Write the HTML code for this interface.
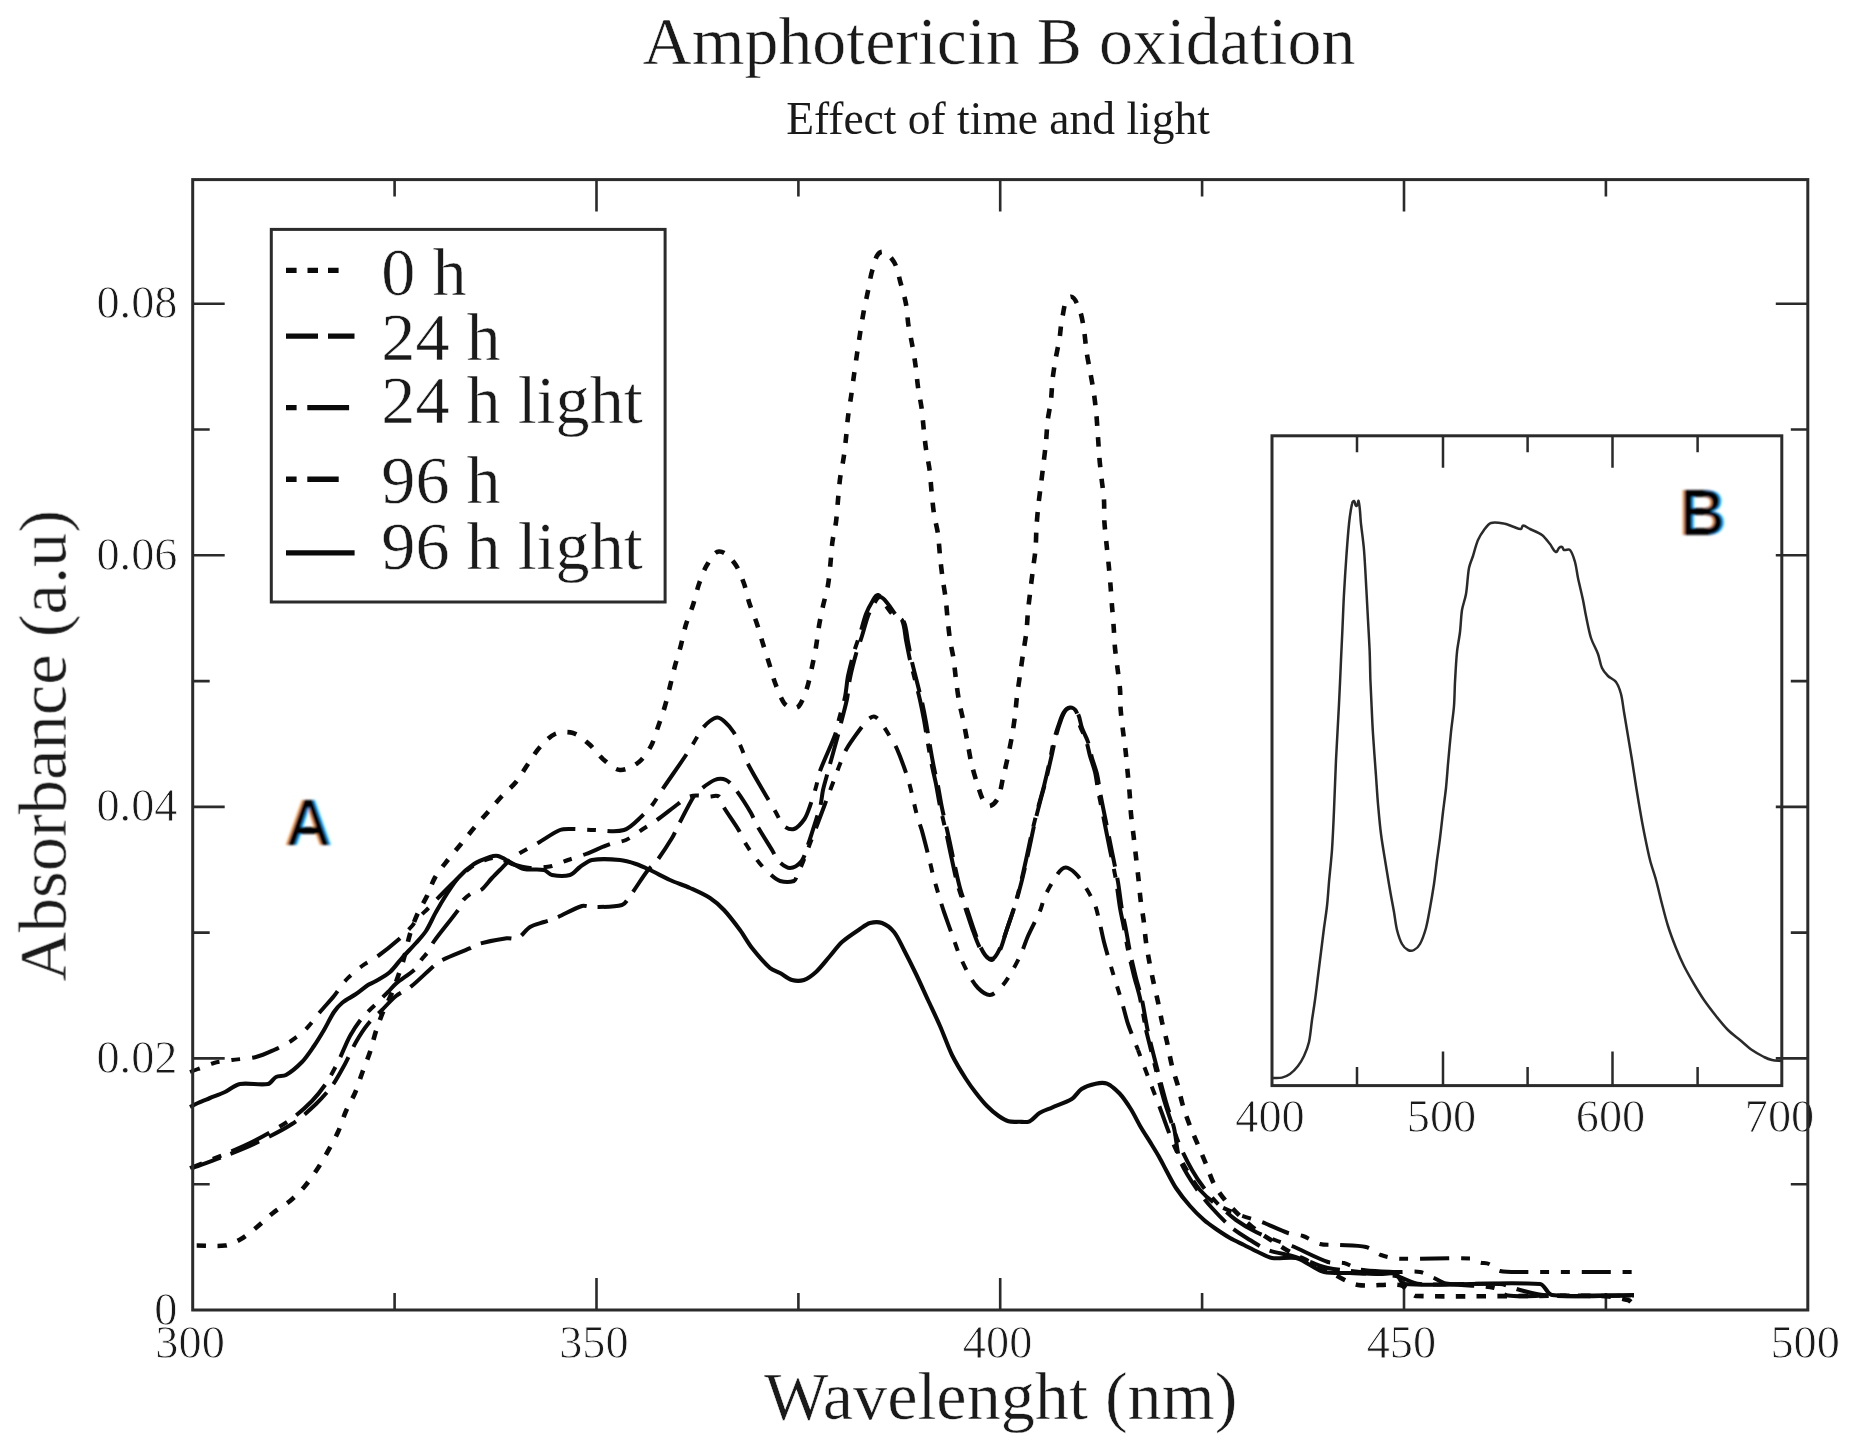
<!DOCTYPE html>
<html lang="en"><head><meta charset="utf-8"><title>Amphotericin B oxidation</title>
<style>
html,body{margin:0;padding:0;background:#fff;}
body{width:1850px;height:1449px;overflow:hidden;position:relative;font-family:"Liberation Serif",serif;color:#111;}
svg{position:absolute;left:0;top:0;display:block}
text{font-family:"Liberation Serif",serif;fill:#1a1a1a}
.tk{font-size:46.3px;stroke:#fff;stroke-width:0.8px}
.big{font-size:68.2px;stroke:#fff;stroke-width:0.5px}
.ab{font-family:"Liberation Sans",sans-serif;font-weight:700;font-size:64.5px;fill:#000}
.curve{fill:none;stroke:#0a0a0a;stroke-width:4;stroke-linejoin:round}
.fr{fill:none;stroke:#2b2b2b;stroke-width:3}
</style></head><body>
<svg width="1850" height="1449" viewBox="0 0 1850 1449">
<defs>
<filter id="fringe" x="-10%" y="-10%" width="120%" height="120%">
<feFlood flood-color="#ff9a2b" result="o"/><feOffset in="SourceAlpha" dx="-0.8" dy="0" result="l"/><feComposite in="o" in2="l" operator="in" result="ol"/>
<feFlood flood-color="#1ea5ff" result="b"/><feOffset in="SourceAlpha" dx="0.8" dy="0" result="r"/><feComposite in="b" in2="r" operator="in" result="br"/>
<feMorphology in="SourceAlpha" operator="erode" radius="0.7 0.2" result="k"/>
<feMerge result="m"><feMergeNode in="ol"/><feMergeNode in="br"/><feMergeNode in="k"/></feMerge><feGaussianBlur in="m" stdDeviation="0.85"/>
</filter>
</defs>
<rect width="1850" height="1449" fill="#fff"/>
<g id="all" style="filter:blur(0.55px)">

<text class="big" x="999" y="64" text-anchor="middle" style="font-size:67.9px">Amphotericin B oxidation</text>
<text x="998" y="134" text-anchor="middle" style="font-size:45.5px">Effect of time and light</text>
<text class="big" x="1000.7" y="1419" text-anchor="middle">Wavelenght (nm)</text>
<text class="big" transform="translate(65.7,745.7) rotate(-90)" text-anchor="middle" style="font-size:68.5px">Absorbance (a.u)</text>
<path d="M596.5,1310.0 v-32 M596.5,179.6 v32 M1000.2,1310.0 v-32 M1000.2,179.6 v32 M1404.0,1310.0 v-32 M1404.0,179.6 v32 M394.6,1310.0 v-17 M394.6,179.6 v17 M798.4,1310.0 v-17 M798.4,179.6 v17 M1202.1,1310.0 v-17 M1202.1,179.6 v17 M1605.9,1310.0 v-17 M1605.9,179.6 v17 M192.7,1058.4 h32 M1807.8,1058.4 h-32 M192.7,806.9 h32 M1807.8,806.9 h-32 M192.7,555.3 h32 M1807.8,555.3 h-32 M192.7,303.7 h32 M1807.8,303.7 h-32 M192.7,1184.2 h17 M1807.8,1184.2 h-17 M192.7,932.6 h17 M1807.8,932.6 h-17 M192.7,681.1 h17 M1807.8,681.1 h-17 M192.7,429.5 h17 M1807.8,429.5 h-17" fill="none" stroke="#2b2b2b" stroke-width="2.6"/>
<text class="tk" x="190.1" y="1357.6" text-anchor="middle">300</text>
<text class="tk" x="593.9" y="1357.6" text-anchor="middle">350</text>
<text class="tk" x="997.6" y="1357.6" text-anchor="middle">400</text>
<text class="tk" x="1401.4" y="1357.6" text-anchor="middle">450</text>
<text class="tk" x="1805.2" y="1357.6" text-anchor="middle">500</text>
<text class="tk" x="177.5" y="1325.4" text-anchor="end">0</text>
<text class="tk" x="177.5" y="1072.6" text-anchor="end">0.02</text>
<text class="tk" x="177.5" y="821.1" text-anchor="end">0.04</text>
<text class="tk" x="177.5" y="569.5" text-anchor="end">0.06</text>
<text class="tk" x="177.5" y="317.9" text-anchor="end">0.08</text>
<path id="c96l" class="curve" d="M190.0,1107.0 C192.4,1105.8 195.6,1104.1 198.0,1103.0 C201.6,1101.4 206.4,1099.5 210.0,1098.0 C214.5,1096.2 220.6,1094.0 225.0,1092.0 C229.6,1089.8 235.0,1084.9 240.0,1084.0 C248.3,1082.5 259.8,1085.6 268.0,1084.0 C271.1,1083.4 273.1,1078.4 276.0,1077.0 C278.7,1075.6 283.3,1076.5 286.0,1075.0 C291.4,1071.9 297.7,1066.4 302.0,1062.0 C306.2,1057.7 310.6,1050.9 314.0,1046.0 C317.2,1041.3 321.1,1034.9 324.0,1030.0 C327.1,1024.7 330.6,1017.1 334.0,1012.0 C336.0,1009.0 339.2,1005.3 342.0,1003.0 C345.9,999.8 351.9,996.8 356.0,994.0 C359.7,991.4 364.2,987.5 368.0,985.0 C370.2,983.5 373.7,982.4 376.0,981.0 C380.3,978.5 386.3,975.3 390.0,972.0 C394.1,968.3 398.3,962.1 402.0,958.0 C406.1,953.4 411.9,947.6 416.0,943.0 C419.1,939.5 423.5,934.9 426.0,931.0 C429.5,925.6 432.8,917.6 436.0,912.0 C439.4,905.9 444.2,897.9 448.0,892.0 C450.8,887.7 454.5,881.8 458.0,878.0 C462.3,873.3 468.7,867.5 474.0,864.0 C478.4,861.1 485.0,858.7 490.0,857.0 C492.3,856.2 495.7,855.4 498.0,856.0 C501.9,857.0 506.4,860.2 510.0,862.0 C514.2,864.1 519.4,867.9 524.0,869.0 C529.8,870.4 538.1,868.7 544.0,870.0 C546.8,870.6 549.2,874.5 552.0,875.0 C557.3,876.0 564.8,876.5 570.0,875.0 C573.7,873.9 576.8,869.2 580.0,867.0 C583.4,864.7 587.9,860.7 592.0,860.0 C600.3,858.6 611.6,859.2 620.0,860.0 C624.9,860.4 631.3,862.4 636.0,864.0 C640.3,865.4 645.9,868.1 650.0,870.0 C656.1,872.9 663.9,877.2 670.0,880.0 C675.9,882.7 684.1,885.3 690.0,888.0 C696.1,890.8 704.4,894.4 710.0,898.0 C714.6,901.0 720.2,906.0 724.0,910.0 C729.3,915.6 735.4,923.8 740.0,930.0 C743.8,935.2 748.0,942.9 752.0,948.0 C757.0,954.3 764.0,962.6 770.0,968.0 C772.5,970.2 777.1,971.4 780.0,973.0 C783.7,975.0 788.0,978.8 792.0,980.0 C795.5,981.0 800.6,981.1 804.0,980.0 C808.1,978.6 812.8,974.9 816.0,972.0 C820.7,967.7 825.8,960.8 830.0,956.0 C833.6,951.8 837.9,945.7 842.0,942.0 C847.0,937.5 854.5,932.7 860.0,929.0 C862.9,927.0 866.6,923.9 870.0,923.0 C873.5,922.1 878.6,921.7 882.0,923.0 C886.2,924.6 891.2,928.5 894.0,932.0 C897.9,936.8 901.1,944.5 904.0,950.0 C907.7,957.1 912.5,966.7 916.0,974.0 C919.7,981.7 924.4,992.2 928.0,1000.0 C931.6,1007.8 936.6,1018.1 940.0,1026.0 C943.8,1034.6 947.9,1046.5 952.0,1055.0 C955.7,1062.5 961.5,1072.0 966.0,1079.0 C968.8,1083.4 972.8,1088.9 976.0,1093.0 C979.1,1097.0 983.4,1102.4 987.0,1106.0 C990.2,1109.3 994.9,1113.3 998.7,1116.0 C1001.4,1117.9 1005.3,1120.4 1008.5,1121.3 C1011.5,1122.2 1015.8,1121.8 1019.0,1121.8 C1022.2,1121.8 1026.7,1122.6 1029.6,1121.3 C1033.2,1119.8 1036.2,1115.0 1039.5,1113.0 C1043.0,1110.9 1048.3,1109.2 1052.0,1107.6 C1057.9,1105.0 1066.3,1102.4 1071.8,1099.0 C1075.4,1096.8 1078.1,1091.3 1081.6,1089.0 C1085.4,1086.6 1091.3,1084.6 1095.7,1083.7 C1099.0,1083.0 1103.9,1082.4 1107.0,1083.7 C1111.4,1085.5 1116.3,1090.0 1119.6,1093.5 C1123.5,1097.7 1127.7,1104.1 1130.8,1109.0 C1134.1,1114.2 1137.6,1121.7 1140.7,1127.0 C1143.5,1131.8 1147.6,1138.0 1150.5,1142.7 C1153.1,1146.9 1156.6,1152.5 1159.0,1156.8 C1161.2,1160.7 1163.9,1166.1 1166.0,1170.0 C1169.0,1175.4 1172.6,1182.9 1176.0,1188.0 C1179.8,1193.7 1185.5,1200.9 1190.0,1206.0 C1193.9,1210.5 1199.6,1216.1 1204.0,1220.0 C1207.4,1223.0 1212.3,1226.4 1216.0,1229.0 C1220.1,1231.8 1225.7,1235.5 1230.0,1238.0 C1234.1,1240.3 1239.8,1242.9 1244.0,1245.0 C1248.2,1247.1 1253.7,1250.0 1258.0,1252.0 C1262.1,1253.9 1267.5,1257.3 1272.0,1258.0 C1279.1,1259.1 1288.9,1256.7 1296.0,1258.0 C1300.6,1258.9 1305.8,1262.9 1310.0,1265.0 C1314.2,1267.1 1319.4,1271.1 1324.0,1272.0 C1331.7,1273.5 1342.2,1272.7 1350.0,1273.0 C1359.0,1273.3 1371.0,1273.8 1380.0,1274.0 C1384.8,1274.1 1391.6,1272.2 1396.0,1274.0 C1399.5,1275.5 1400.2,1283.7 1404.0,1284.0 C1444.7,1286.8 1499.3,1281.0 1540.0,1284.0 C1544.9,1284.4 1547.1,1294.4 1552.0,1295.0 C1576.4,1297.9 1609.4,1295.0 1634.0,1295.0" style="stroke-width:4.1"/>
<path id="c24" class="curve" d="M190.0,1169.0 C200.5,1165.1 214.6,1160.1 225.0,1156.0 C233.8,1152.6 245.5,1148.1 254.0,1144.0 C265.6,1138.4 281.2,1131.0 292.0,1124.0 C299.9,1118.9 309.2,1110.5 316.0,1104.0 C321.2,1099.0 327.8,1091.8 332.0,1086.0 C336.5,1079.8 341.3,1070.7 345.0,1064.0 C348.5,1057.5 352.3,1048.4 356.0,1042.0 C359.2,1036.4 363.9,1029.0 368.0,1024.0 C371.7,1019.4 377.8,1014.2 382.0,1010.0 C386.2,1005.8 391.4,999.7 396.0,996.0 C400.0,992.8 406.6,990.1 410.6,986.9 C417.9,981.1 426.7,972.0 433.8,965.9 C436.0,964.1 438.9,961.6 441.5,960.4 C449.9,956.3 461.6,952.0 470.2,948.2 C472.9,947.0 476.2,944.6 479.0,943.8 C487.2,941.6 498.3,939.5 506.7,938.3 C510.0,937.8 514.7,939.7 517.7,938.3 C522.2,936.1 525.7,929.6 530.0,927.0 C533.8,924.7 539.8,923.5 544.0,922.0 C547.6,920.8 552.5,919.5 556.0,918.0 C563.9,914.7 573.8,908.5 582.0,906.0 C584.9,905.1 589.0,907.1 592.0,907.0 C601.0,906.8 613.3,907.5 622.0,905.0 C625.5,904.0 627.8,898.9 630.0,896.0 C635.7,888.4 642.2,877.5 648.0,870.0 C650.1,867.3 654.0,864.7 656.0,862.0 C661.2,855.1 667.5,845.4 672.0,838.0 C674.1,834.6 676.1,829.6 678.0,826.0 C682.7,817.0 688.7,804.7 694.0,796.0 C695.3,793.8 698.0,791.6 700.0,790.0 C704.2,786.7 709.6,781.9 714.6,780.0 C717.8,778.8 722.9,778.6 726.0,780.0 C729.8,781.8 733.4,786.6 736.0,790.0 C741.0,796.6 746.8,805.9 751.0,813.0 C753.0,816.4 754.7,821.5 756.7,825.0 C761.2,832.9 767.9,843.2 772.6,851.0 C774.4,854.0 775.9,858.6 778.4,861.0 C781.3,863.8 785.9,868.0 790.0,868.0 C794.1,868.0 799.0,864.2 801.6,861.0 C804.5,857.4 805.8,850.9 807.4,846.5 C810.2,838.6 813.4,828.0 816.0,820.0 C817.3,815.8 819.4,810.3 820.4,806.0 C821.5,801.3 822.0,794.8 823.0,790.0 C824.0,785.4 825.8,779.5 827.0,775.0 C830.1,763.6 834.4,748.4 837.5,737.0 C838.8,732.2 840.3,725.8 841.5,721.0 C843.1,714.4 845.7,705.7 847.0,699.0 C848.2,692.8 848.8,684.2 850.0,678.0 C851.5,670.7 854.0,661.1 856.0,654.0 C857.6,648.5 860.3,641.4 862.0,636.0 C863.9,630.0 865.8,621.9 868.0,616.0 C869.4,612.2 871.9,607.4 874.0,604.0 C875.5,601.7 877.2,597.0 880.0,597.0 C883.2,597.0 885.9,601.6 888.0,604.0 C890.7,607.0 893.3,612.0 896.0,615.0 C898.1,617.4 902.7,619.1 904.0,622.0 C906.5,627.6 906.8,636.0 908.0,642.0 C909.2,648.0 910.7,656.0 912.0,662.0 C913.4,668.0 915.5,676.0 917.0,682.0 C918.5,688.0 920.6,696.0 922.0,702.0 C923.3,708.0 924.9,716.0 926.0,722.0 C927.3,729.2 928.7,738.8 930.0,746.0 C931.1,752.6 932.7,761.4 934.0,768.0 C935.1,773.4 936.9,780.6 938.0,786.0 C939.3,792.6 940.6,801.4 942.0,808.0 C943.6,815.8 946.3,826.2 948.0,834.0 C949.9,842.4 952.1,853.6 954.0,862.0 C955.7,869.8 957.8,880.3 960.0,888.0 C962.0,895.3 965.6,904.8 968.0,912.0 C969.8,917.4 972.1,924.6 974.0,930.0 C976.0,935.4 978.4,942.8 981.0,948.0 C982.6,951.3 985.1,955.8 988.0,958.0 C989.4,959.1 992.7,959.2 994.0,958.0 C997.1,955.2 999.3,949.8 1001.0,946.0 C1003.5,940.2 1005.9,932.0 1008.0,926.0 C1010.4,918.8 1013.8,909.3 1016.0,902.0 C1018.0,895.5 1020.3,886.6 1022.0,880.0 C1023.9,872.2 1026.3,861.8 1028.0,854.0 C1029.9,845.6 1032.1,834.4 1034.0,826.0 C1035.7,818.8 1038.1,809.2 1040.0,802.0 C1041.7,795.4 1044.3,786.6 1046.0,780.0 C1047.9,772.2 1050.2,761.8 1052.0,754.0 C1053.2,748.6 1054.6,741.3 1056.0,736.0 C1057.3,731.1 1059.2,724.7 1061.0,720.0 C1062.2,716.9 1063.7,712.5 1066.0,710.0 C1067.3,708.6 1070.2,707.4 1072.0,708.0 C1074.4,708.8 1076.9,711.7 1078.0,714.0 C1080.0,717.9 1080.5,723.9 1082.0,728.0 C1083.5,732.3 1086.6,737.7 1088.0,742.0 C1089.6,746.7 1090.7,753.2 1092.0,758.0 C1093.4,762.8 1095.8,769.1 1097.0,774.0 C1098.3,779.3 1099.0,786.6 1100.0,792.0 C1101.7,801.0 1104.2,813.0 1106.0,822.0 C1107.8,831.0 1110.2,843.0 1112.0,852.0 C1113.8,861.0 1116.4,873.0 1118.0,882.0 C1119.4,890.4 1120.6,901.6 1122.0,910.0 C1123.0,916.0 1124.9,924.0 1126.0,930.0 C1127.3,936.6 1128.6,945.4 1130.0,952.0 C1131.6,959.8 1134.1,970.2 1136.0,978.0 C1137.7,984.6 1140.5,993.3 1142.0,1000.0 C1144.1,1009.5 1145.9,1022.5 1148.0,1032.0 C1150.7,1044.1 1154.9,1060.0 1158.0,1072.0 C1160.3,1081.0 1163.4,1093.0 1166.0,1102.0 C1168.2,1109.8 1172.1,1120.1 1174.0,1128.0 C1176.3,1137.5 1176.6,1150.8 1180.0,1160.0 C1183.3,1169.1 1190.6,1180.0 1196.0,1188.0 C1200.3,1194.4 1206.9,1202.3 1212.0,1208.0 C1217.7,1214.3 1225.5,1222.5 1232.0,1228.0 C1237.0,1232.2 1244.5,1236.6 1250.0,1240.0 C1255.3,1243.2 1262.2,1247.8 1268.0,1250.0 C1274.9,1252.6 1284.9,1254.0 1292.0,1256.0 C1297.5,1257.6 1304.6,1260.2 1310.0,1262.0 C1315.4,1263.8 1322.4,1266.9 1328.0,1268.0 C1337.5,1269.9 1350.4,1270.9 1360.0,1272.0 C1370.8,1273.3 1385.3,1273.9 1396.0,1276.0 C1403.4,1277.5 1412.4,1283.4 1420.0,1284.0 C1443.9,1285.8 1476.0,1282.6 1500.0,1284.0 C1506.3,1284.4 1513.9,1288.5 1520.0,1290.0 C1528.3,1292.0 1539.4,1295.2 1548.0,1295.6 C1573.8,1296.9 1608.2,1295.6 1634.0,1295.6" stroke-dasharray="31 11" stroke-dashoffset="40.5"/>
<path id="c24l" class="curve" d="M190.0,1168.0 C200.5,1163.8 214.6,1158.4 225.0,1154.0 C233.8,1150.3 245.6,1145.4 254.0,1141.0 C265.1,1135.2 279.7,1127.1 290.0,1120.0 C297.2,1115.0 305.9,1107.2 312.0,1101.0 C317.1,1095.8 323.0,1088.1 327.0,1082.0 C331.1,1075.7 335.6,1066.7 339.0,1060.0 C342.5,1052.9 346.2,1042.9 350.0,1036.0 C353.1,1030.3 357.9,1023.0 362.0,1018.0 C365.7,1013.4 371.8,1008.2 376.0,1004.0 C379.6,1000.4 384.4,995.6 388.0,992.0 C390.4,989.5 393.3,985.8 396.0,983.6 C401.5,979.0 409.8,974.1 415.0,969.2 C417.6,966.7 419.5,962.2 421.7,959.3 C423.5,956.8 426.6,954.0 428.3,951.5 C430.2,948.7 431.8,944.4 433.8,941.6 C441.1,931.4 452.0,918.7 459.2,908.5 C460.9,906.1 461.6,901.8 463.6,899.6 C466.1,896.8 470.3,893.8 473.6,892.0 C475.7,890.8 479.4,891.2 481.3,889.7 C485.1,886.8 488.7,881.4 492.0,878.0 C495.0,874.8 499.2,870.7 502.3,867.6 C504.6,865.3 507.5,862.1 510.0,860.0 C512.8,857.7 516.9,854.9 520.0,853.0 C525.3,849.8 532.6,846.1 538.0,843.0 C544.6,839.2 552.9,832.9 560.0,830.0 C563.3,828.6 568.4,829.0 572.0,829.0 C578.6,829.0 587.4,829.9 594.0,830.0 C603.0,830.2 615.4,832.5 624.0,830.0 C630.6,828.1 636.9,820.6 642.0,816.0 C645.6,812.7 650.0,807.9 653.0,804.0 C656.0,800.0 659.2,794.1 662.0,790.0 C668.5,780.3 677.5,767.7 684.0,758.0 C686.8,753.9 690.4,748.2 693.0,744.0 C695.8,739.5 698.9,733.2 702.0,729.0 C704.0,726.3 707.3,723.0 710.0,721.0 C712.0,719.5 715.0,717.3 717.5,717.5 C720.1,717.7 723.1,720.2 725.0,722.0 C727.9,724.6 731.4,728.7 733.5,732.0 C736.4,736.5 739.2,743.1 741.4,748.0 C743.5,752.7 745.6,759.4 748.0,764.0 C753.2,774.1 761.1,787.1 766.8,797.0 C769.4,801.4 772.9,807.3 775.5,811.7 C778.0,816.0 780.4,822.6 784.0,826.0 C786.3,828.1 791.0,830.0 794.0,829.0 C798.1,827.6 802.0,822.6 804.5,819.0 C806.9,815.5 808.6,810.0 810.0,806.0 C812.0,800.4 814.4,792.7 816.0,787.0 C817.4,782.2 818.3,775.6 820.0,771.0 C824.0,760.0 831.0,746.0 835.0,735.0 C836.7,730.4 837.7,723.8 839.0,719.0 C840.7,712.4 843.6,703.7 845.0,697.0 C846.3,690.8 846.8,682.2 848.0,676.0 C849.5,668.7 852.0,659.1 854.0,652.0 C855.6,646.5 858.3,639.4 860.0,634.0 C861.9,628.0 863.8,619.9 866.0,614.0 C867.4,610.2 869.9,605.4 872.0,602.0 C873.5,599.7 875.3,594.2 878.0,595.0 C881.9,596.1 883.5,602.8 886.0,606.0 C888.3,609.1 891.1,613.5 894.0,616.0 C896.0,617.8 900.8,617.6 902.0,620.0 C904.7,625.5 904.8,634.0 906.0,640.0 C907.2,646.0 908.7,654.0 910.0,660.0 C911.4,666.0 913.5,674.0 915.0,680.0 C916.5,686.0 918.6,694.0 920.0,700.0 C921.3,706.0 922.9,714.0 924.0,720.0 C925.3,727.2 926.7,736.8 928.0,744.0 C929.1,750.6 930.7,759.4 932.0,766.0 C933.1,771.4 934.9,778.6 936.0,784.0 C937.3,790.6 938.6,799.4 940.0,806.0 C941.6,813.8 944.3,824.2 946.0,832.0 C947.9,840.4 950.1,851.6 952.0,860.0 C953.7,867.8 955.8,878.3 958.0,886.0 C960.0,893.3 963.6,902.8 966.0,910.0 C967.8,915.4 970.1,922.6 972.0,928.0 C974.0,933.4 976.4,940.8 979.0,946.0 C980.6,949.3 983.5,953.3 986.0,956.0 C987.5,957.6 990.0,960.9 992.0,960.0 C995.5,958.5 998.3,953.4 1000.0,950.0 C1002.5,944.9 1004.2,937.4 1006.0,932.0 C1008.4,924.8 1011.8,915.3 1014.0,908.0 C1016.0,901.5 1018.3,892.6 1020.0,886.0 C1021.9,878.2 1024.3,867.8 1026.0,860.0 C1027.9,851.6 1030.1,840.4 1032.0,832.0 C1033.7,824.8 1036.1,815.2 1038.0,808.0 C1039.7,801.4 1042.3,792.6 1044.0,786.0 C1045.9,778.2 1048.3,767.8 1050.0,760.0 C1051.3,754.0 1052.5,745.9 1054.0,740.0 C1055.2,735.1 1057.3,728.7 1059.0,724.0 C1060.3,720.3 1061.8,715.2 1064.0,712.0 C1065.2,710.1 1067.8,707.8 1070.0,707.6 C1072.1,707.4 1075.0,709.2 1076.0,711.0 C1078.2,715.1 1078.5,721.6 1080.0,726.0 C1081.5,730.3 1084.6,735.7 1086.0,740.0 C1087.6,744.7 1088.7,751.2 1090.0,756.0 C1091.4,760.8 1093.8,767.1 1095.0,772.0 C1096.3,777.3 1097.0,784.6 1098.0,790.0 C1099.7,799.0 1102.2,811.0 1104.0,820.0 C1105.8,829.0 1108.2,841.0 1110.0,850.0 C1111.8,859.0 1114.4,871.0 1116.0,880.0 C1117.4,888.4 1118.6,899.6 1120.0,908.0 C1121.0,914.0 1122.9,922.0 1124.0,928.0 C1125.3,934.6 1126.6,943.4 1128.0,950.0 C1129.6,957.8 1132.1,968.2 1134.0,976.0 C1135.7,982.6 1138.5,991.3 1140.0,998.0 C1142.1,1007.5 1144.2,1020.4 1146.0,1030.0" stroke-dasharray="42 11.5 9 11.5" stroke-dashoffset="29"/>
<path id="c24lb" class="curve" d="M1146.0,1030.0 C1149.0,1042.0 1152.9,1058.0 1156.0,1070.0 C1158.3,1079.0 1161.4,1091.1 1164.0,1100.0 C1166.2,1107.3 1169.5,1116.8 1172.0,1124.0 C1174.3,1130.6 1177.2,1139.6 1180.0,1146.0 C1183.2,1153.4 1188.0,1163.0 1192.0,1170.0 C1195.2,1175.6 1200.0,1182.9 1204.0,1188.0 C1208.4,1193.7 1214.9,1200.9 1220.0,1206.0 C1224.5,1210.5 1230.8,1216.3 1236.0,1220.0 C1241.7,1224.1 1249.8,1228.8 1256.0,1232.0 C1261.5,1234.8 1269.2,1237.8 1275.0,1240.0 C1280.0,1242.0 1287.0,1243.9 1292.0,1246.0 C1302.9,1250.5 1316.8,1258.3 1328.0,1262.0 C1332.6,1263.5 1339.3,1261.9 1344.0,1263.0 C1349.0,1264.2 1354.9,1268.6 1360.0,1269.5 C1370.7,1271.3 1385.2,1271.5 1396.0,1272.0 C1403.2,1272.3 1412.9,1270.9 1420.0,1272.0 C1424.5,1272.7 1429.8,1276.2 1434.0,1278.0 C1437.6,1279.6 1442.1,1282.8 1446.0,1283.5 C1460.3,1285.9 1479.8,1285.2 1494.0,1288.0 C1498.7,1288.9 1503.3,1294.9 1508.0,1295.6 C1519.9,1297.3 1536.0,1295.6 1548.0,1295.6 C1573.8,1295.6 1608.2,1295.6 1634.0,1295.6" stroke-dasharray="42 11.5 9 11.5" stroke-dashoffset="19.5"/>
<path id="c96" class="curve" d="M190.0,1072.0 C192.4,1071.1 195.6,1069.9 198.0,1069.0 C202.8,1067.2 209.0,1064.3 214.0,1063.0 C219.3,1061.6 226.6,1060.8 232.0,1060.0 C239.2,1059.0 248.9,1058.7 256.0,1057.0 C261.6,1055.7 268.7,1052.4 274.0,1050.0 C279.2,1047.6 286.2,1044.2 291.0,1041.0 C296.1,1037.6 302.6,1032.4 307.0,1028.0 C311.4,1023.6 316.0,1016.7 320.0,1012.0 C324.1,1007.1 330.0,1001.0 334.0,996.0 C337.8,991.3 341.9,984.4 346.0,980.0 C350.4,975.3 356.9,969.8 362.0,966.0 C366.5,962.6 373.4,959.3 378.0,956.0 C384.2,951.5 392.2,945.1 398.0,940.0 C402.5,936.1 408.0,930.4 412.0,926.0 C413.7,924.2 415.3,921.3 417.0,919.5 C420.1,916.1 424.7,911.8 428.0,908.5 C431.6,904.8 436.4,899.7 440.0,896.0 C444.5,891.5 450.3,885.3 455.0,881.0 C459.4,876.9 465.1,871.4 470.0,868.0 C474.2,865.1 480.2,861.7 485.0,860.0 C488.7,858.7 494.1,857.4 498.0,858.0 C502.5,858.7 507.6,862.6 512.0,864.0 C517.3,865.6 524.5,867.5 530.0,868.0 C534.5,868.4 540.5,867.4 545.0,867.0 C547.1,866.8 550.0,866.6 552.0,866.0 C556.9,864.5 563.2,861.7 568.0,860.0 C573.4,858.1 580.7,856.0 586.0,854.0 C593.3,851.2 602.6,846.6 610.0,844.0 C614.7,842.4 621.5,842.0 626.0,840.0 C631.5,837.5 637.9,832.3 643.0,829.0 C647.2,826.3 652.9,822.9 657.0,820.0 C663.4,815.4 671.6,808.7 678.0,804.0 C680.9,801.8 684.7,798.6 688.0,797.0 C690.2,796.0 693.6,795.6 696.0,795.5 C699.9,795.4 705.1,796.3 709.0,796.5 C712.0,796.6 716.5,794.8 719.0,796.5 C721.6,798.2 721.4,803.3 723.0,806.0 C727.5,813.6 734.5,823.1 739.0,830.6 C741.5,834.8 743.9,840.9 746.5,845.0 C749.9,850.5 754.9,857.5 759.0,862.5 C762.3,866.5 767.1,871.6 771.0,875.0 C773.4,877.1 776.9,880.2 780.0,881.0 C784.1,882.1 790.0,882.3 794.0,881.0 C795.8,880.4 796.2,877.2 797.0,875.5 C798.9,871.5 801.3,866.1 803.0,862.0 C805.2,856.5 807.9,849.1 810.0,843.6 C811.8,838.9 814.2,832.7 816.0,828.0 C817.8,823.2 820.2,816.8 822.0,812.0 C823.8,807.2 826.2,800.8 828.0,796.0 C829.8,791.2 832.2,784.8 834.0,780.0 C835.8,775.2 838.1,768.8 840.0,764.0 C841.8,759.5 844.0,753.2 846.5,749.0 C851.2,741.1 858.5,731.3 864.0,724.0 C865.5,722.0 867.8,719.3 870.0,718.0 C871.4,717.1 874.0,716.2 875.5,717.0 C878.1,718.3 880.3,721.7 882.0,724.0 C884.3,727.1 887.0,731.6 889.0,735.0 C891.5,739.1 895.1,744.6 897.0,749.0 C900.6,757.2 904.6,768.5 907.4,777.0 C909.0,781.7 910.5,788.2 911.7,793.0 C913.3,799.5 915.1,808.2 916.8,814.6 C918.1,819.5 920.5,825.8 921.9,830.6 C924.2,838.8 926.9,849.8 929.0,858.0 C930.3,863.1 931.7,869.9 933.0,875.0 C934.7,881.3 937.1,889.7 939.0,896.0 C940.4,900.8 942.4,907.2 944.0,912.0 C946.9,920.4 951.0,931.6 954.0,940.0 C955.5,944.2 957.3,949.9 959.0,954.0 C961.5,959.8 964.9,967.5 968.0,973.0 C970.6,977.7 974.2,984.2 978.0,988.0 C980.9,990.9 985.8,995.3 990.0,995.0 C994.5,994.6 998.9,989.3 1002.0,986.0 C1005.3,982.6 1008.6,977.1 1011.0,973.0 C1014.3,967.5 1018.3,959.9 1021.0,954.0 C1023.4,948.7 1025.7,941.3 1028.0,936.0 C1031.4,928.4 1036.7,918.7 1040.0,911.0 C1041.9,906.6 1043.0,900.3 1045.0,896.0 C1047.6,890.4 1051.7,883.2 1055.0,878.0 C1056.8,875.1 1059.3,871.1 1062.0,869.0 C1063.4,867.9 1066.3,867.3 1068.0,868.0 C1071.2,869.3 1074.7,872.5 1077.0,875.0 C1080.2,878.5 1083.6,883.9 1086.0,888.0 C1089.0,892.9 1092.9,899.6 1095.0,905.0 C1097.1,910.5 1098.6,918.3 1100.0,924.0 C1101.3,929.4 1102.6,936.6 1104.0,942.0 C1106.2,950.5 1109.5,961.6 1112.0,970.0 C1113.4,974.8 1115.5,981.2 1117.0,986.0 C1118.8,992.0 1121.3,1000.0 1123.0,1006.0 C1124.6,1011.4 1126.2,1018.7 1128.0,1024.0 C1130.7,1031.9 1135.0,1042.2 1138.0,1050.0" stroke-dasharray="29 11.8 9 11.8 9 11.8" stroke-dashoffset="18.4"/>
<path id="c96b" class="curve" d="M1138.0,1050.0 C1141.6,1059.6 1146.4,1072.4 1150.0,1082.0 C1153.0,1089.8 1157.1,1100.2 1160.0,1108.0 C1162.5,1114.6 1165.5,1123.4 1168.0,1130.0 C1170.3,1136.0 1173.2,1144.2 1176.0,1150.0 C1179.2,1156.8 1184.1,1165.6 1188.0,1172.0 C1191.3,1177.6 1195.7,1185.1 1200.0,1190.0 C1204.2,1194.8 1210.6,1200.6 1216.0,1204.0 C1222.7,1208.2 1232.6,1212.1 1240.0,1215.0 C1246.4,1217.5 1255.5,1219.6 1262.0,1222.0 C1269.9,1225.0 1280.0,1230.3 1288.0,1233.0 C1292.3,1234.5 1298.7,1234.5 1303.0,1236.0 C1308.3,1237.8 1314.5,1242.6 1320.0,1244.0 C1325.2,1245.3 1332.6,1244.6 1338.0,1245.0 C1346.4,1245.5 1357.8,1245.1 1366.0,1247.0 C1371.0,1248.2 1376.2,1253.3 1381.0,1255.0 C1385.9,1256.8 1392.8,1258.4 1398.0,1258.6 C1419.9,1259.5 1449.1,1257.6 1471.0,1258.6 C1473.9,1258.7 1477.2,1261.7 1480.0,1262.5 C1482.6,1263.3 1486.5,1262.9 1489.0,1264.0 C1492.6,1265.5 1496.2,1270.2 1500.0,1271.0 C1508.2,1272.7 1519.6,1271.9 1528.0,1272.0 C1560.1,1272.2 1602.9,1272.0 1635.0,1272.0" stroke-dasharray="29 11.8 9 11.8 9 11.8" stroke-dashoffset="22.4"/>
<path id="c0h" class="curve" d="M196.7,1245.5 C205.2,1245.5 216.6,1246.7 225.0,1245.5 C230.1,1244.7 236.5,1241.6 241.0,1239.0 C246.2,1236.0 252.3,1230.8 257.0,1227.0 C262.0,1223.0 268.0,1216.9 273.0,1213.0 C277.9,1209.1 285.2,1205.0 290.0,1201.0 C294.9,1196.9 300.9,1190.9 305.0,1186.0 C309.3,1180.9 314.3,1173.6 318.0,1168.0 C321.2,1163.1 325.1,1156.2 328.0,1151.0 C331.1,1145.4 335.4,1137.9 338.0,1132.0 C340.8,1125.9 343.3,1117.2 346.0,1111.0 C348.4,1105.5 352.6,1098.6 355.0,1093.0 C357.6,1086.8 360.2,1078.3 362.5,1072.0 C364.7,1066.0 368.0,1058.1 370.0,1052.0 C372.0,1045.8 374.0,1037.2 376.0,1031.0 C377.9,1025.2 380.7,1017.6 383.0,1012.0 C385.2,1006.8 388.8,1000.2 391.0,995.0 C393.5,989.1 396.4,981.0 398.5,975.0 C400.3,969.9 402.6,963.2 404.0,958.0 C406.0,950.9 407.9,941.1 410.0,934.0 C411.8,928.2 414.5,920.5 417.0,915.0 C419.6,909.1 424.2,901.8 427.0,896.0 C429.6,890.5 432.0,882.8 435.0,877.5 C438.0,872.2 443.2,865.8 447.0,861.0 C451.1,855.8 456.8,849.1 461.0,844.0 C464.9,839.2 470.0,832.7 474.0,828.0 C478.1,823.1 483.8,816.8 488.0,812.0 C492.2,807.2 497.6,800.7 502.0,796.0 C506.1,791.7 512.3,786.6 516.0,782.0 C520.1,777.0 524.3,769.4 528.0,764.0 C531.5,758.9 535.8,751.6 540.0,747.0 C544.0,742.6 549.5,736.3 555.0,734.0 C560.0,731.9 567.8,731.5 573.0,733.0 C578.6,734.6 584.6,740.2 589.0,744.0 C594.0,748.3 599.0,755.8 604.0,760.0 C608.3,763.6 614.3,769.7 620.0,770.0 C626.2,770.4 634.1,765.8 639.0,762.0 C643.7,758.3 648.1,751.3 651.0,746.0 C653.9,740.7 656.0,732.7 658.0,727.0 C660.2,720.7 663.1,712.4 665.0,706.0 C666.9,699.6 668.8,691.0 670.4,684.6 C671.9,678.6 673.7,670.6 675.3,664.7 C676.9,658.9 679.4,651.2 680.9,645.4 C682.5,639.3 684.0,631.0 685.8,625.0 C687.6,618.9 691.0,611.1 693.0,605.0 C695.0,598.8 696.8,590.2 699.0,584.0 C701.0,578.3 703.6,570.5 706.8,565.3 C709.7,560.6 713.5,552.0 719.0,551.5 C724.7,551.0 730.8,558.5 734.4,563.0 C738.5,568.2 741.5,576.8 743.8,583.0 C746.0,588.8 747.4,597.1 749.3,603.0 C751.4,609.4 754.9,617.6 757.0,623.9 C758.9,629.5 760.9,637.0 762.6,642.6 C764.5,648.9 767.2,657.3 769.2,663.6 C771.1,669.6 773.1,677.7 775.3,683.5 C777.6,689.5 780.4,697.7 784.0,703.0 C785.6,705.3 789.2,707.4 792.0,708.0 C794.1,708.4 797.7,707.7 799.0,706.0 C802.5,701.3 805.1,693.6 807.0,688.0 C809.0,681.9 810.6,673.3 812.0,667.0 C813.3,661.0 815.0,653.0 816.0,647.0 C817.1,640.7 817.9,632.3 819.0,626.0 C820.0,620.0 821.7,612.0 823.0,606.0 C824.4,599.7 826.9,591.4 828.0,585.0 C829.1,578.8 829.8,570.3 830.4,564.0 C831.1,557.4 831.5,548.6 832.4,542.0 C833.2,536.0 835.2,528.0 836.0,522.0 C836.9,515.4 837.4,506.6 838.0,500.0 C838.6,493.7 839.2,485.3 840.0,479.0 C840.8,472.7 842.7,464.3 843.6,458.0 C844.5,452.0 845.4,444.0 846.0,438.0 C846.7,431.7 847.2,423.3 848.0,417.0 C848.7,411.0 850.1,403.0 851.0,397.0 C851.9,390.4 853.1,381.6 854.0,375.0 C854.9,368.7 856.1,360.3 857.0,354.0 C857.9,348.0 859.1,340.0 860.0,334.0 C861.0,327.4 862.4,318.6 863.6,312.0 C864.8,305.7 866.7,297.3 868.0,291.0 C869.3,284.7 870.4,276.1 872.4,270.0 C874.3,264.3 875.4,254.1 881.0,252.0 C885.6,250.3 891.4,257.8 894.0,262.0 C897.5,267.6 898.8,276.7 900.6,283.0 C902.4,289.3 904.8,297.6 906.0,304.0 C907.2,310.2 907.4,318.7 908.4,325.0 C909.4,331.3 911.3,339.7 912.4,346.0 C913.5,352.0 914.8,360.0 915.6,366.0 C916.5,372.3 917.1,380.7 918.0,387.0 C918.9,393.3 920.7,401.7 921.6,408.0 C922.4,414.0 923.0,422.0 923.6,428.0 C924.3,434.3 925.1,442.7 926.0,449.0 C926.9,455.3 928.8,463.7 929.6,470.0 C930.5,476.6 930.9,485.4 931.6,492.0 C932.3,498.6 933.0,507.4 934.0,514.0 C934.9,520.0 937.1,527.9 938.0,534.0 C938.9,540.6 939.3,549.4 940.0,556.0 C940.6,562.3 941.6,570.7 942.4,577.0 C943.2,583.3 944.8,591.7 945.6,598.0 C946.4,604.3 946.9,612.7 947.6,619.0 C948.3,625.3 949.1,633.7 950.0,640.0 C950.9,645.7 952.7,653.3 953.6,659.0 C954.5,665.3 955.2,673.7 956.0,680.0 C956.8,686.3 957.9,694.7 959.0,701.0 C960.1,707.3 962.3,715.7 963.6,722.0 C964.9,728.3 966.4,736.7 967.6,743.0 C968.8,749.3 970.1,757.8 971.6,764.0 C973.0,769.8 975.2,777.4 977.0,783.0 C978.9,788.8 981.0,796.7 984.0,802.0 C985.1,803.9 987.9,806.6 990.0,806.0 C993.3,805.1 996.6,801.1 998.0,798.0 C1000.6,792.4 1001.6,784.0 1003.0,778.0 C1004.6,771.4 1006.6,762.6 1008.0,756.0 C1009.3,750.0 1010.9,742.0 1012.0,736.0 C1013.0,730.0 1014.2,722.0 1015.0,716.0 C1015.7,710.0 1016.3,702.0 1017.0,696.0 C1017.8,689.7 1019.1,681.3 1020.0,675.0 C1020.9,668.7 1022.1,660.3 1023.0,654.0 C1024.0,647.4 1025.6,638.6 1026.4,632.0 C1027.1,625.7 1027.4,617.3 1028.0,611.0 C1028.6,604.7 1029.7,596.3 1030.4,590.0 C1031.2,583.7 1032.2,575.3 1033.0,569.0 C1033.8,562.7 1035.1,554.3 1035.6,548.0 C1036.1,541.7 1036.1,533.3 1036.5,527.0 C1036.9,520.4 1037.7,511.6 1038.4,505.0 C1039.1,498.7 1040.2,490.3 1041.0,484.0 C1041.8,477.7 1042.8,469.3 1043.6,463.0 C1044.3,456.7 1045.4,448.3 1046.0,442.0 C1046.6,435.7 1046.9,427.3 1047.6,421.0 C1048.4,414.7 1050.2,406.3 1051.0,400.0 C1051.7,393.7 1051.9,385.3 1052.6,379.0 C1053.3,373.0 1054.6,365.0 1055.6,359.0 C1056.7,352.7 1058.6,344.3 1059.6,338.0 C1060.6,331.7 1060.8,323.2 1062.4,317.0 C1064.0,310.8 1064.1,299.4 1070.0,297.0 C1074.5,295.2 1077.7,305.5 1079.6,310.0 C1082.0,315.7 1083.0,323.9 1084.0,330.0 C1085.1,336.6 1085.6,345.4 1086.6,352.0 C1087.5,358.3 1089.3,366.7 1090.4,373.0 C1091.5,379.3 1093.1,387.7 1094.0,394.0 C1094.9,400.3 1095.8,408.7 1096.4,415.0 C1097.0,421.6 1097.5,430.4 1098.0,437.0 C1098.4,443.3 1098.9,451.7 1099.4,458.0 C1099.9,464.3 1100.9,472.7 1101.6,479.0 C1102.3,485.3 1103.6,493.7 1104.0,500.0 C1104.4,506.6 1104.0,515.4 1104.4,522.0 C1104.8,528.3 1105.8,536.7 1106.4,543.0 C1107.0,549.3 1108.0,557.7 1108.6,564.0 C1109.2,570.0 1109.9,578.0 1110.4,584.0 C1110.9,590.6 1111.5,599.4 1112.0,606.0 C1112.5,612.0 1113.2,620.0 1113.6,626.0 C1114.1,632.6 1114.4,641.4 1115.0,648.0 C1115.6,654.3 1116.8,662.7 1117.6,669.0 C1118.3,675.0 1119.5,683.0 1120.0,689.0 C1120.4,695.0 1120.2,703.0 1120.6,709.0 C1121.1,715.6 1122.2,724.4 1123.0,731.0 C1123.7,737.0 1124.9,745.0 1125.6,751.0 C1126.3,757.3 1127.0,765.7 1127.6,772.0 C1128.2,778.3 1129.1,786.7 1129.6,793.0 C1130.1,799.3 1130.4,807.7 1131.0,814.0 C1131.6,820.6 1132.8,829.4 1133.6,836.0 C1134.3,842.3 1135.3,850.7 1136.0,857.0 C1136.7,863.3 1137.7,871.7 1138.4,878.0 C1139.1,884.6 1139.8,893.4 1140.6,900.0 C1141.3,906.0 1142.8,914.0 1143.6,920.0 C1144.4,926.6 1145.1,935.4 1146.0,942.0 C1146.7,947.4 1148.0,954.6 1149.0,960.0 C1150.1,966.0 1151.7,974.0 1153.0,980.0 C1154.4,986.6 1156.6,995.4 1158.0,1002.0 C1159.3,1008.0 1160.7,1016.0 1162.0,1022.0 C1163.4,1028.0 1165.6,1036.0 1167.0,1042.0 C1168.6,1049.2 1170.2,1058.9 1172.0,1066.0 C1173.5,1072.1 1176.3,1080.0 1178.0,1086.0 C1179.6,1092.0 1181.2,1100.1 1183.0,1106.0 C1184.8,1112.1 1187.7,1120.1 1190.0,1126.0 C1192.2,1131.8 1195.6,1139.3 1198.0,1145.0 C1200.4,1150.7 1203.7,1158.3 1206.0,1164.0 C1208.5,1170.0 1211.0,1178.3 1214.0,1184.0 C1216.7,1189.2 1221.3,1195.5 1225.0,1200.0 C1229.1,1205.1 1235.3,1211.4 1240.0,1216.0 C1244.6,1220.4 1250.9,1226.1 1256.0,1230.0 C1261.2,1233.9 1268.6,1238.5 1274.0,1242.0 C1278.8,1245.1 1285.1,1249.3 1290.0,1252.0 C1295.9,1255.3 1304.0,1258.9 1310.0,1262.0 C1317.5,1265.8 1327.4,1271.3 1335.0,1275.0 C1341.8,1278.3 1350.6,1283.9 1358.0,1285.0 C1370.5,1286.9 1387.5,1283.3 1400.0,1285.0 C1403.6,1285.5 1407.0,1289.9 1410.0,1292.0 C1411.8,1293.2 1413.8,1296.0 1416.0,1296.0 C1471.2,1297.2 1544.8,1295.0 1600.0,1296.0 C1608.5,1296.2 1619.8,1297.8 1628.0,1300.0 C1630.3,1300.6 1632.2,1303.5 1634.0,1305.0" stroke-dasharray="9.5 11.3" stroke-dashoffset="0" style="stroke-width:4.6"/>
<rect class="fr" x="271.3" y="229.4" width="393.8" height="372.6" fill="#fff"/>
<g class="curve" style="stroke-width:5.4">
<path d="M286,270.4 H296.6 M307.5,270.4 H318 M328,270.4 H338.6"/>
<path d="M286,336.1 H318 M328,336.1 H354.5"/>
<path d="M286,407.6 H296.6 M307.3,407.6 H349.1"/>
<path d="M286,479.2 H296.6 M307.3,479.2 H338.7"/>
<path d="M286,552.9 H354.6"/>
</g>
<text class="big" x="381.3" y="295">0 h</text>
<text class="big" x="381.3" y="359.6">24 h</text>
<text class="big" x="381.3" y="422.7">24 h light</text>
<text class="big" x="381.3" y="503.3">96 h</text>
<text class="big" x="381.3" y="569">96 h light</text>
<text class="ab" x="285" y="844.6" filter="url(#fringe)">A</text>
<text class="ab" x="1679.2" y="535.4" filter="url(#fringe)">B</text>
<rect class="fr" x="1272.0" y="435.8" width="509.8" height="649.8" style="stroke-width:3"/>
<path d="M1443,1085.6 v-34 M1443,435.8 v32 M1612.5,1085.6 v-34 M1612.5,435.8 v32 M1357,1085.6 v-18.5 M1357,435.8 v16.5 M1527.6,1085.6 v-18.5 M1527.6,435.8 v16.5 M1697.6,1085.6 v-18.5 M1697.6,435.8 v16.5" fill="none" stroke="#2b2b2b" stroke-width="2.5"/>
<path d="M1272.0,1078.0 C1275.0,1077.9 1279.1,1078.3 1282.0,1077.6 C1284.6,1077.0 1287.9,1075.5 1290.0,1074.0 C1292.7,1072.0 1295.9,1068.7 1298.0,1066.0 C1300.1,1063.2 1302.5,1059.2 1304.0,1056.0 C1305.9,1051.9 1308.0,1046.4 1309.0,1042.0 C1310.4,1035.5 1311.1,1026.6 1312.0,1020.0 C1312.9,1014.0 1314.2,1006.0 1315.0,1000.0 C1316.0,992.8 1317.1,983.2 1318.0,976.0 C1318.9,968.8 1320.1,959.2 1321.0,952.0 C1321.9,944.8 1323.1,935.2 1324.0,928.0 C1324.9,921.4 1326.3,912.6 1327.0,906.0 C1327.8,898.8 1328.4,889.2 1329.0,882.0 C1329.9,872.4 1331.3,859.6 1332.0,850.0 C1332.8,838.0 1333.5,822.0 1334.0,810.0 C1334.7,795.0 1335.3,775.0 1336.0,760.0 C1336.8,743.2 1338.2,720.8 1339.0,704.0 C1339.7,690.8 1340.4,673.2 1341.0,660.0 C1341.4,651.0 1342.0,639.0 1342.4,630.0 C1342.9,619.2 1343.4,604.8 1344.0,594.0 C1344.6,582.6 1345.6,567.4 1346.4,556.0 C1347.1,546.4 1348.0,533.6 1349.0,524.0 C1349.6,518.0 1350.7,509.9 1352.0,504.0 C1352.2,502.9 1353.0,500.6 1354.0,501.0 C1355.5,501.7 1354.7,506.0 1356.4,506.0 C1358.0,506.0 1358.2,499.4 1358.6,501.0 C1360.3,507.7 1360.2,517.1 1361.0,524.0 C1361.9,531.8 1363.4,542.2 1364.0,550.0 C1365.0,562.0 1365.7,578.0 1366.4,590.0 C1366.9,599.0 1367.5,611.0 1368.0,620.0 C1368.5,629.0 1369.2,641.0 1369.6,650.0 C1370.0,659.0 1370.1,671.0 1370.4,680.0 C1370.7,687.2 1371.2,696.8 1371.5,704.0 C1371.9,713.0 1372.4,725.0 1373.0,734.0 C1373.8,746.6 1375.1,763.4 1376.0,776.0 C1376.6,784.4 1377.3,795.6 1378.0,804.0 C1378.8,813.0 1379.8,825.0 1381.0,834.0 C1382.2,843.6 1384.5,856.4 1386.0,866.0 C1387.2,873.2 1388.7,882.8 1390.0,890.0 C1391.1,896.6 1392.8,905.4 1394.0,912.0 C1394.9,917.4 1395.7,924.7 1397.0,930.0 C1398.1,934.3 1399.9,940.1 1402.0,944.0 C1403.2,946.2 1405.7,948.9 1408.0,950.0 C1409.6,950.8 1412.4,950.8 1414.0,950.0 C1416.3,948.9 1418.8,946.2 1420.0,944.0 C1422.5,939.5 1424.6,932.9 1426.0,928.0 C1427.6,922.1 1428.9,914.0 1430.0,908.0 C1431.3,900.8 1432.9,891.2 1434.0,884.0 C1435.0,876.8 1436.1,867.2 1437.0,860.0 C1437.9,853.4 1439.2,844.6 1440.0,838.0 C1441.0,830.2 1442.1,819.8 1443.0,812.0 C1443.9,804.8 1445.2,795.2 1446.0,788.0 C1446.7,780.8 1447.4,771.2 1448.0,764.0 C1448.9,754.4 1450.0,741.6 1451.0,732.0 C1451.8,724.2 1453.4,713.8 1454.0,706.0 C1454.6,698.8 1454.6,689.2 1455.0,682.0 C1455.5,673.0 1456.1,661.0 1457.0,652.0 C1457.6,646.0 1459.3,638.0 1460.0,632.0 C1460.8,625.4 1461.0,616.5 1462.0,610.0 C1462.8,605.1 1465.2,598.9 1466.0,594.0 C1467.3,586.3 1467.6,575.7 1469.0,568.0 C1469.7,564.3 1471.8,559.6 1473.0,556.0 C1474.5,551.2 1476.0,544.6 1478.0,540.0 C1479.4,536.8 1481.9,532.8 1484.0,530.0 C1485.8,527.6 1488.2,523.9 1491.0,523.0 C1494.7,521.8 1500.2,522.9 1504.0,523.6 C1507.1,524.1 1511.0,526.0 1514.0,527.0 C1516.1,527.7 1518.8,529.3 1521.0,529.0 C1522.2,528.8 1521.8,525.6 1523.0,525.6 C1525.3,525.6 1527.9,528.0 1530.0,529.0 C1533.6,530.8 1538.8,532.6 1542.0,535.0 C1544.9,537.2 1547.7,541.2 1550.0,544.0 C1551.9,546.3 1553.3,550.8 1556.0,552.0 C1557.4,552.6 1557.8,549.0 1559.0,548.0 C1559.7,547.4 1561.1,546.6 1562.0,547.0 C1563.0,547.4 1563.0,549.6 1564.0,550.0 C1565.7,550.6 1568.8,548.7 1570.0,550.0 C1572.6,552.9 1573.9,558.3 1575.0,562.0 C1576.3,566.7 1577.0,573.2 1578.0,578.0 C1579.4,584.6 1581.6,593.4 1583.0,600.0 C1584.0,604.8 1585.0,611.2 1586.0,616.0 C1587.4,622.6 1589.0,631.5 1591.0,638.0 C1592.6,643.0 1596.2,649.1 1598.0,654.0 C1599.5,658.1 1600.2,664.0 1602.0,668.0 C1603.2,670.7 1605.9,673.9 1608.0,676.0 C1610.1,678.1 1614.2,679.6 1616.0,682.0 C1618.3,685.2 1620.0,690.2 1621.0,694.0 C1622.4,699.3 1623.1,706.6 1624.0,712.0 C1625.2,719.2 1626.8,728.8 1628.0,736.0 C1629.2,743.2 1630.8,752.8 1632.0,760.0 C1633.2,767.8 1634.8,778.2 1636.0,786.0 C1637.2,793.2 1638.7,802.8 1640.0,810.0 C1641.1,816.6 1642.7,825.4 1644.0,832.0 C1645.7,840.4 1647.9,851.7 1650.0,860.0 C1651.5,866.1 1654.4,874.0 1656.0,880.0 C1658.0,887.2 1660.1,896.8 1662.0,904.0 C1663.7,910.6 1665.9,919.5 1668.0,926.0 C1670.1,932.7 1673.4,941.5 1676.0,948.0 C1678.2,953.5 1681.4,960.7 1684.0,966.0 C1686.8,971.5 1690.9,978.7 1694.0,984.0 C1696.9,988.9 1700.8,995.3 1704.0,1000.0 C1707.4,1004.9 1712.3,1011.3 1716.0,1016.0 C1719.5,1020.3 1724.1,1026.1 1728.0,1030.0 C1731.3,1033.3 1736.4,1037.0 1740.0,1040.0 C1743.6,1043.0 1748.2,1047.3 1752.0,1050.0 C1755.4,1052.4 1760.3,1055.1 1764.0,1057.0 C1766.3,1058.1 1769.5,1059.4 1772.0,1060.0 C1774.9,1060.7 1779.0,1060.7 1782.0,1061.0" fill="none" stroke="#2a2a2a" stroke-width="2.5" stroke-linejoin="round"/>
<text class="tk" x="1270" y="1132.3" text-anchor="middle">400</text>
<text class="tk" x="1441.5" y="1132.3" text-anchor="middle">500</text>
<text class="tk" x="1610.5" y="1132.3" text-anchor="middle">600</text>
<text class="tk" x="1779.5" y="1132.3" text-anchor="middle">700</text>
<rect class="fr" x="192.7" y="179.6" width="1615.1" height="1130.4"/>
</g></svg></body></html>
